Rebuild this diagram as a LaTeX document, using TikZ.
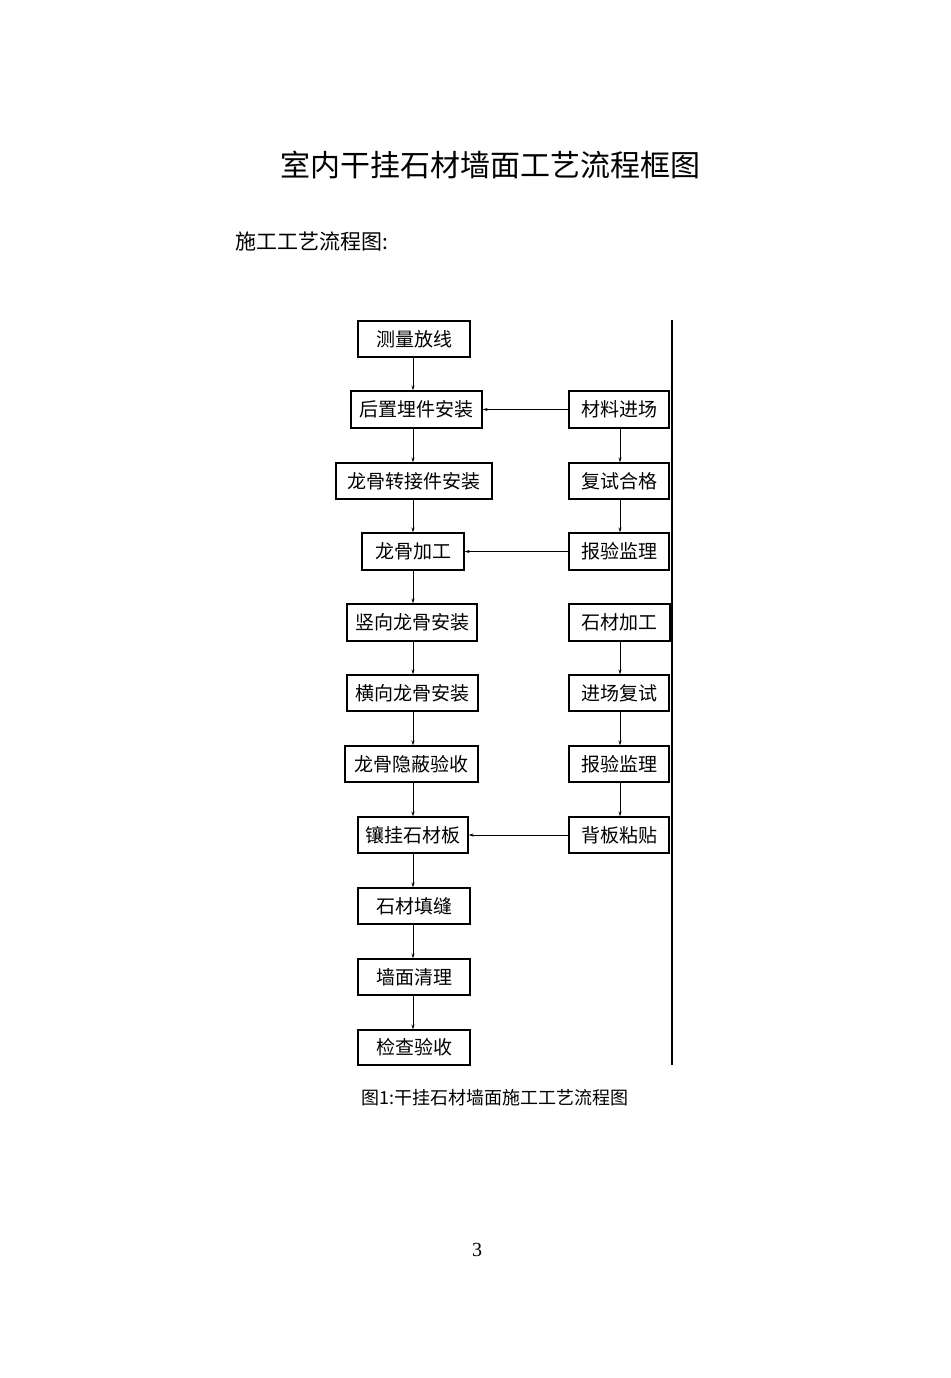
\documentclass[tikz,border=0pt]{standalone}
\usepackage{fontspec}
\setmainfont{Liberation Serif}
\newfontfamily\cjk{Noto Sans CJK SC}
\usetikzlibrary{arrows.meta}
\begin{document}
\begin{tikzpicture}[x=1pt,y=-1pt,
  bx/.style={draw,line width=1.1pt,inner sep=0pt,font=\cjk\fontsize{19}{19}\selectfont},
  ar/.style={line width=1pt,-{Stealth[length=5pt,width=3pt]}}]
\useasboundingbox (0,0) rectangle (950,1378);
\node[font=\cjk\fontsize{30}{30}\selectfont] (title) at (490,165) {室内干挂石材墙面工艺流程框图};
\node[font=\cjk\fontsize{21}{21}\selectfont,anchor=west] (sub) at (232,242) {施工工艺流程图:};
\def\bxx#1#2#3#4#5#6{\node[bx,minimum width=#4-#3,minimum height=#6-#5] (#1) at ({(#3+#4)/2},{(#5+#6)/2}) {#2};}
\bxx{a1}{测量放线}{358}{470}{321}{357}
\bxx{a2}{后置埋件安装}{351}{482}{391}{428}
\bxx{a3}{龙骨转接件安装}{336}{492}{463}{499}
\bxx{a4}{龙骨加工}{362}{464}{533}{570}
\bxx{a5}{竖向龙骨安装}{347}{477}{604}{641}
\bxx{a6}{横向龙骨安装}{347}{478}{675}{711}
\bxx{a7}{龙骨隐蔽验收}{345}{478}{746}{782}
\bxx{a8}{镶挂石材板}{358}{468}{817}{853}
\bxx{a9}{石材填缝}{358}{470}{888}{924}
\bxx{a10}{墙面清理}{358}{470}{959}{995}
\bxx{a11}{检查验收}{358}{470}{1030}{1065}
\bxx{b1}{材料进场}{569}{669}{391}{428}
\bxx{b2}{复试合格}{569}{669}{463}{499}
\bxx{b3}{报验监理}{569}{669}{533}{570}
\bxx{b4}{石材加工}{569}{670}{604}{641}
\bxx{b5}{进场复试}{569}{669}{675}{711}
\bxx{b6}{报验监理}{569}{669}{746}{782}
\bxx{b7}{背板粘贴}{569}{669}{817}{853}
\foreach \i/\j in {1/2,2/3,3/4,4/5,5/6,6/7,7/8,8/9,9/10,10/11}
  \draw[ar] (a\i.south -| 413,0) -- (a\j.north -| 413,0);
\foreach \i/\j in {1/2,2/3,4/5,5/6,6/7}
  \draw[ar] (b\i.south -| 620,0) -- (b\j.north -| 620,0);
\draw[ar] (b1) -- (a2);
\draw[ar] (b3) -- (a4);
\draw[ar] (b7) -- (a8);
\coordinate (t) at (672,320); \coordinate (bt) at (672,1065);
\draw[line width=1.1pt] (t) -- (bt);
\node[font=\cjk\fontsize{18}{18}\selectfont] (cap) at (495,1098) {图1:干挂石材墙面施工工艺流程图};
\node[font=\fontsize{20}{20}\selectfont] (pg) at (477,1250) {3};
\end{tikzpicture}
\end{document}
